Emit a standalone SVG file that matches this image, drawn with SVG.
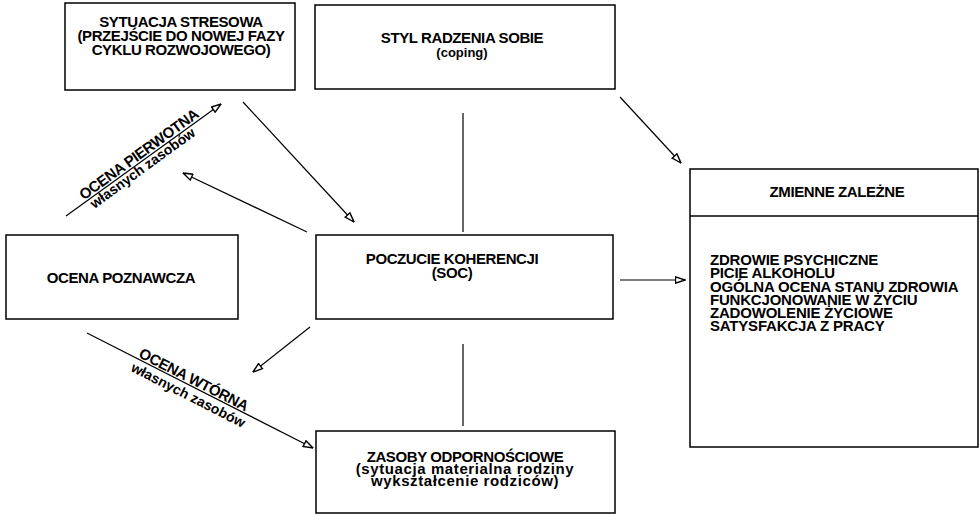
<svg xmlns="http://www.w3.org/2000/svg" width="980" height="514" viewBox="0 0 980 514">
<style>
.box{fill:#fff;stroke:#000;stroke-width:1.5}
.t{font-family:"Liberation Sans",Arial,sans-serif;font-size:15px;font-weight:bold;letter-spacing:-0.4px;fill:#000;text-anchor:middle}
.l{font-family:"Liberation Sans",Arial,sans-serif;font-size:15px;font-weight:bold;letter-spacing:0.6px;fill:#000;text-anchor:middle}
.w{font-family:"Liberation Sans",Arial,sans-serif;font-size:14px;font-weight:bold;fill:#000;text-anchor:middle}
.ll{font-family:"Liberation Sans",Arial,sans-serif;font-size:15px;font-weight:bold;letter-spacing:-0.2px;fill:#000}
.c{fill:none;stroke:#000;stroke-width:1.2}
.a{marker-end:url(#arr)}
</style>
<defs>
<marker id="arr" viewBox="0 0 11 8" refX="10.5" refY="4" markerWidth="11" markerHeight="8" markerUnits="userSpaceOnUse" orient="auto">
<path d="M1,0.8 L10.5,4 L1,7.2 Z" fill="#fff" stroke="#000" stroke-width="1.4"/>
</marker>
</defs>
<g id="sytuacja">
<rect class="box" x="65" y="3" width="230" height="87"/>
<text class="t" x="181" y="27">SYTUACJA STRESOWA</text>
<text class="t" x="181" y="41">(PRZEJŚCIE DO NOWEJ FAZY</text>
<text class="t" x="181" y="55">CYKLU ROZWOJOWEGO)</text>
</g>
<g id="styl">
<rect class="box" x="315" y="5" width="300" height="84"/>
<text class="t" x="462" y="43">STYL RADZENIA SOBIE</text>
<text class="t" x="462" y="57" style="font-size:13px;letter-spacing:0">(coping)</text>
</g>
<g id="ocena">
<rect class="box" x="6" y="235" width="232" height="84"/>
<text class="t" x="121" y="283">OCENA POZNAWCZA</text>
</g>
<g id="soc">
<rect class="box" x="316" y="235" width="297" height="84"/>
<text class="t" x="452" y="264">POCZUCIE KOHERENCJI</text>
<text class="t" x="452" y="278">(SOC)</text>
</g>
<g id="zmienne">
<rect class="box" x="690" y="169" width="288" height="278"/>
<line x1="690" y1="216" x2="978" y2="216" stroke="#000" stroke-width="1.5"/>
<text class="t" x="837" y="197">ZMIENNE ZALEŻNE</text>
<text class="ll" x="710" y="265">ZDROWIE PSYCHICZNE</text>
<text class="ll" x="710" y="278">PICIE ALKOHOLU</text>
<text class="ll" x="710" y="291.5">OGÓLNA OCENA STANU ZDROWIA</text>
<text class="ll" x="710" y="305">FUNKCJONOWANIE W ŻYCIU</text>
<text class="ll" x="710" y="318">ZADOWOLENIE ŻYCIOWE</text>
<text class="ll" x="710" y="331">SATYSFAKCJA Z PRACY</text>
</g>
<g id="zasoby">
<rect class="box" x="316" y="431" width="299" height="82"/>
<text class="t" x="465" y="462">ZASOBY ODPORNOŚCIOWE</text>
<text class="l" x="465" y="474">(sytuacja materialna rodziny</text>
<text class="l" x="465" y="486">wykształcenie rodziców)</text>
</g>
<g id="connectors">
<line class="c a" x1="620" y1="97" x2="681" y2="163"/>
<line class="c" x1="463" y1="113" x2="463" y2="232"/>
<line class="c" x1="463" y1="344" x2="463" y2="426"/>
<line class="c a" x1="620" y1="280" x2="685" y2="280"/>
<line class="c a" x1="243" y1="102" x2="354" y2="222"/>
<line class="c a" x1="307" y1="232" x2="183" y2="173"/>
<line class="c a" x1="310" y1="327" x2="253" y2="372"/>
<line class="c a" x1="66" y1="216" x2="221" y2="104"/>
<line class="c a" x1="87" y1="333" x2="313" y2="448"/>
<g transform="translate(143,160) rotate(-36)">
<text class="t" x="0" y="-2">OCENA PIERWOTNA</text>
<text class="w" x="-5" y="11">własnych zasobów</text>
</g>
<g transform="translate(199.5,390.5) rotate(27.07)">
<text class="t" x="-10" y="-2">OCENA WTÓRNA</text>
<text class="w" x="-8" y="14">własnych zasobów</text>
</g>
</g>
</svg>
